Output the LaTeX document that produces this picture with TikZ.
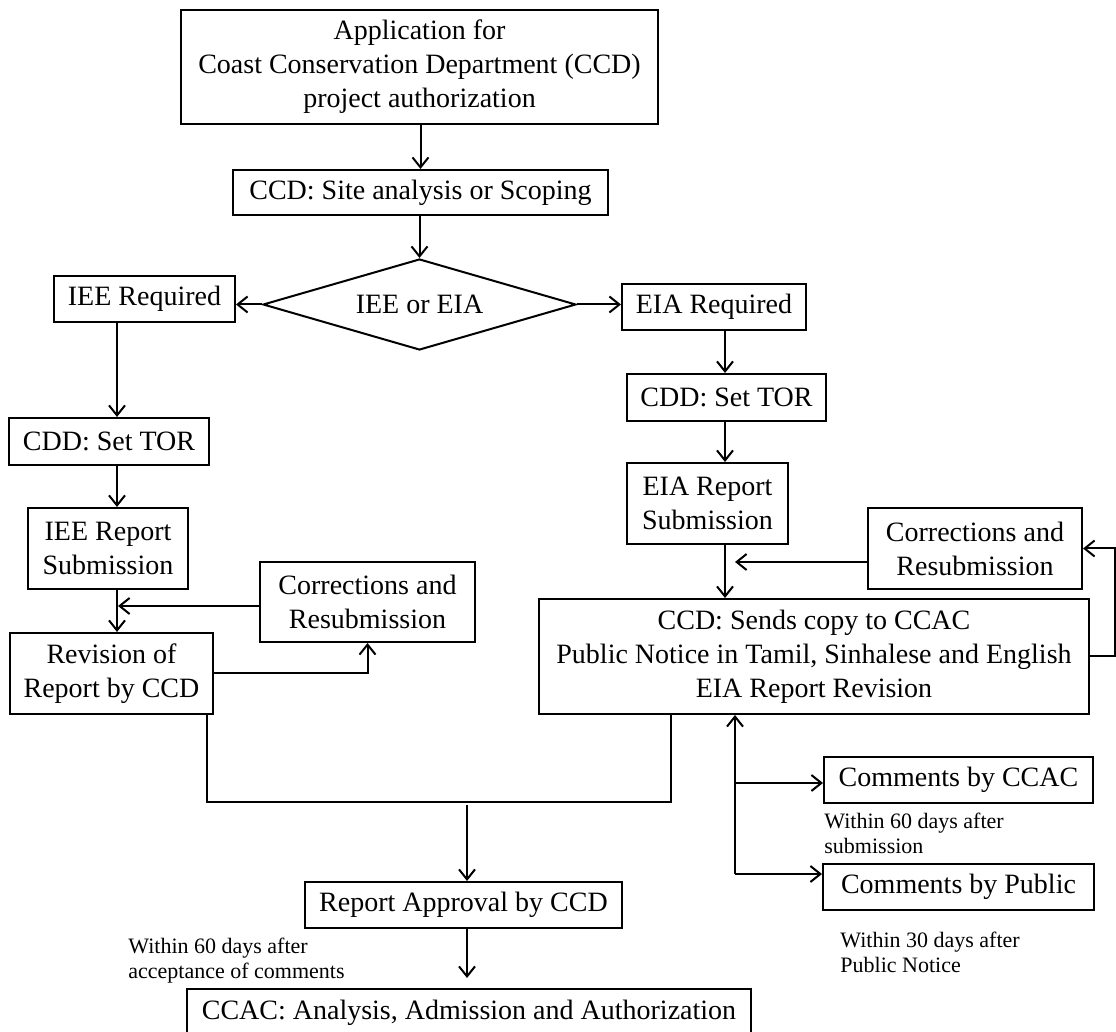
\documentclass[tikz,border=0pt]{standalone}
\usepackage{fontspec}
\setmainfont{Liberation Serif}
\usetikzlibrary{arrows.meta,shapes.geometric,calc}
\newcommand\mainsz{\fontsize{14}{17}\selectfont}
\newcommand\smallsz{\fontsize{11}{12.5}\selectfont}
\tikzset{
  box/.style={draw, line width=1pt, inner sep=0pt, align=center, font=\mainsz},
  dia/.style={draw, diamond, aspect=3.44, line width=1pt, inner sep=0pt, align=center, font=\mainsz},
  note/.style={inner sep=0pt, align=left, anchor=north west, font=\smallsz},
  arr/.style={line width=1pt, -{Straight Barb[length=5pt,width=8pt,line width=1pt]}},
  ln/.style={line width=1pt}
}
\begin{document}
\begin{tikzpicture}[x=0.5pt,y=-0.5pt]
\useasboundingbox (0,0) rectangle (1116,1032);
% nodes
\node[box, minimum width=238.5pt, minimum height=57pt] (top) at (419.5,67)
  {Application for\\Coast Conservation Department (CCD)\\project authorization};
\node[box, minimum width=187.5pt, minimum height=22.5pt] (site) at (420.5,192.5)
  {CCD: Site analysis or Scoping};
\node[dia, minimum width=156.5pt, minimum height=45.5pt] (diam) at (419.5,304.5) {IEE or EIA};
\node[box, minimum width=90.5pt, minimum height=23pt] (iee) at (144.5,299) {IEE Required};
\node[box, minimum width=92pt, minimum height=23pt] (eia) at (714,307) {EIA Required};
\node[box, minimum width=100pt, minimum height=23.5pt] (cddl) at (109,441.5) {CDD: Set TOR};
\node[box, minimum width=80pt, minimum height=40.5pt] (ieerep) at (108,548.5) {IEE Report\\Submission};
\node[box, minimum width=101.5pt, minimum height=40.5pt] (rev) at (111.5,673.5) {Revision of\\Report by CCD};
\node[box, minimum width=107.5pt, minimum height=40pt] (corrL) at (367.5,602) {Corrections and\\Resubmission};
\node[box, minimum width=99.5pt, minimum height=23.5pt] (cddr) at (726.5,397.5) {CDD: Set TOR};
\node[box, minimum width=80.5pt, minimum height=40.5pt] (eiarep) at (707.5,503.5) {EIA Report\\Submission};
\node[box, minimum width=275pt, minimum height=57.5pt] (big) at (814,656.5)
  {CCD: Sends copy to CCAC\\Public Notice in Tamil, Sinhalese and English\\EIA Report Revision};
\node[box, minimum width=107pt, minimum height=40.5pt] (corrR) at (975,548.5) {Corrections and\\Resubmission};
\node[box, minimum width=134.5pt, minimum height=23pt] (cmc) at (958.5,780) {Comments by CCAC};
\node[box, minimum width=135.5pt, minimum height=23pt] (cmp) at (958.5,887) {Comments by Public};
\node[box, minimum width=158.5pt, minimum height=23pt] (appr) at (463.5,905) {Report Approval by CCD};
\node[box, minimum width=282pt, minimum height=24pt] (ccac) at (469,1013) {CCAC: Analysis, Admission and Authorization};
% notes
\node[note] (n1) at (128,938) {Within 60 days after\\acceptance of comments};
\node[note] (n2) at (824,813) {Within 60 days after\\submission};
\node[note] (n3) at (840,932) {Within 30 days after\\Public Notice};
% helper coordinates
\coordinate (lx) at (117,0);
\coordinate (cL) at (118,606);
\coordinate (rx) at (725,0);
\coordinate (cR) at (735,562);
\coordinate (fr) at (1115,0);
\coordinate (dl) at (207,0);
\coordinate (bot) at (671,802);
\coordinate (jx) at (467,805);
\coordinate (ux) at (735,874);
\coordinate (uc) at (735,783);
% connectors
\draw[arr] (site.north |- top.south) -- (site.north);
\draw[arr] (diam.north |- site.south) -- (diam.north);
\draw[arr] (diam.west) -- (diam.west -| iee.east);
\draw[arr] (diam.east) -- (diam.east -| eia.west);
\draw[arr] (iee.south -| lx) -- (cddl.north -| lx);
\draw[arr] (cddl.south -| lx) -- (ieerep.north -| lx);
\draw[arr] (ieerep.south -| lx) -- (rev.north -| lx);
\draw[arr] (corrL.west |- cL) -- (cL);
\draw[arr] (rev.east) -| (corrL.south);
\draw[arr] (eia.south -| rx) -- (cddr.north -| rx);
\draw[arr] (cddr.south -| rx) -- (eiarep.north -| rx);
\draw[arr] (eiarep.south -| rx) -- (big.north -| rx);
\draw[arr] (corrR.west |- cR) -- (cR);
\draw[arr] (big.east) -- (big.east -| fr) |- (corrR.east);
\draw[ln] (rev.south -| dl) |- (bot) -- (big.south -| bot);
\draw[arr] (jx) -- (appr.north -| jx);
\draw[arr, shorten >=5pt] (appr.south -| jx) -- (ccac.north -| jx);
\draw[arr] (ux) -- (big.south -| ux);
\draw[arr] (uc) -- (uc -| cmc.west);
\draw[arr] (ux) -- (ux -| cmp.west);
\end{tikzpicture}
\end{document}
